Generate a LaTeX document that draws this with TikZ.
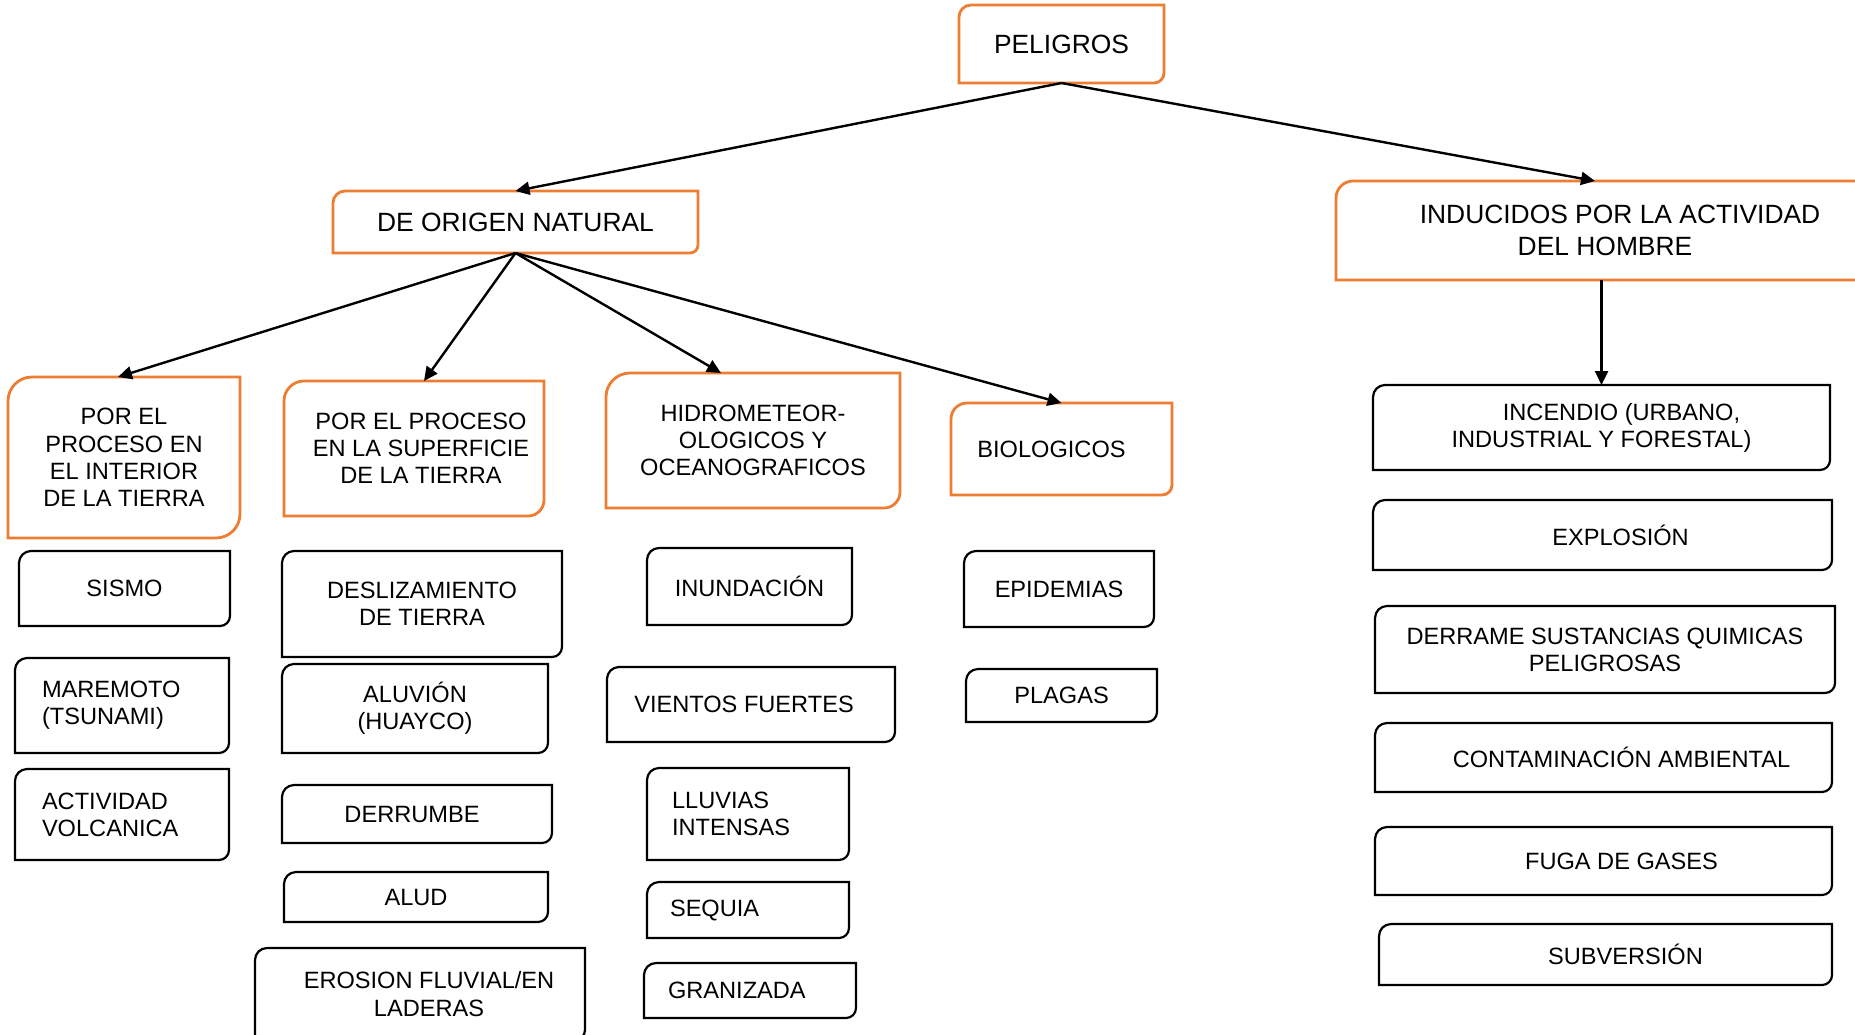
\documentclass[tikz,border=0pt]{standalone}
\usepackage{fontspec}
\setmainfont{Liberation Sans}
\usetikzlibrary{arrows.meta, positioning}
\definecolor{hazardorange}{RGB}{237,125,49}
\tikzset{
    hazard/.style={draw=none, align=center, inner sep=2pt, outer sep=0pt,
        font=\fontsize{11.8}{13.6}\selectfont},
    headfont/.style={font=\fontsize{13.2}{16}\selectfont},
    boxsize/.style 2 args={minimum width=#1*0.5pt, minimum height=#2*0.5pt},
    link/.style={line width=1.2pt, -{Triangle[length=7pt,width=6.5pt]}},
    orangeedge/.style={draw=hazardorange, line width=1.4pt},
    blackedge/.style={draw=black, line width=1.1pt}
}
% outline with rounded top left and bottom right corners
\newcommand{\tagoutline}[4]{%
    \draw[#4] (#1.south west) -- ([yshift=-#2]#1.north west)
        arc[start angle=180, end angle=90, radius=#2]
        -- (#1.north east) -- ([yshift=#3]#1.south east)
        arc[start angle=0, end angle=-90, radius=#3] -- cycle;%
}
\begin{document}
\begin{tikzpicture}[x=0.5pt, y=-0.5pt]
    \useasboundingbox (0,0) rectangle (1855,1034);
    % top levels
    \node[hazard, headfont, boxsize={205}{78}] (peligros) at (1061.5,44) {PELIGROS};
    \node[hazard, headfont, boxsize={365}{62}] (natural) at (515.5,222) {DE ORIGEN NATURAL};
    \node[hazard, headfont, boxsize={538}{99}] (inducidos) at (1605,230.5) {\hspace*{15pt}INDUCIDOS POR LA ACTIVIDAD\\DEL HOMBRE};
    \node[hazard, boxsize={232}{161}] (interior) at (124,457.5) {POR EL\\PROCESO EN\\EL INTERIOR\\DE LA TIERRA};
    \node[hazard, boxsize={260}{135}] (superficie) at (414,448.5) {\hspace*{7pt}POR EL PROCESO\\\hspace*{7pt}EN LA SUPERFICIE\\\hspace*{7pt}DE LA TIERRA};
    \node[hazard, boxsize={294}{135}] (hidro) at (753,440.5) {HIDROMETEOR-\\OLOGICOS Y\\OCEANOGRAFICOS};
    \node[hazard, boxsize={221}{92}] (bio) at (1061.5,449) {BIOLOGICOS\hspace*{10pt}};
    % interior
    \node[hazard, boxsize={211}{75}] (sismo) at (124.5,588.5) {SISMO};
    \node[hazard, boxsize={214}{95}, align=left, inner xsep=13.5pt, text width=80pt] (maremoto) at (122,705.5) {MAREMOTO\\(TSUNAMI)};
    \node[hazard, boxsize={214}{91}, align=left, inner xsep=13.5pt, text width=80pt] (volcanica) at (122,814.5) {ACTIVIDAD\\VOLCANICA};
    % superficie
    \node[hazard, boxsize={280}{106}] (deslizamiento) at (422,604) {DESLIZAMIENTO\\DE TIERRA};
    \node[hazard, boxsize={266}{89}] (aluvion) at (415,708.5) {ALUVIÓN\\(HUAYCO)};
    \node[hazard, boxsize={270}{58}] (derrumbe) at (417,814) {DERRUMBE\hspace*{5pt}};
    \node[hazard, boxsize={264}{50}] (alud) at (416,897) {ALUD};
    \node[hazard, boxsize={330}{92}] (erosion) at (420,994) {\hspace*{9pt}EROSION FLUVIAL/EN\\\hspace*{9pt}LADERAS};
    % hidrometeorologicos
    \node[hazard, boxsize={205}{77}] (inundacion) at (749.5,586.5) {INUNDACIÓN};
    \node[hazard, boxsize={288}{75}] (vientos) at (751,704.5) {VIENTOS FUERTES\hspace*{7pt}};
    \node[hazard, boxsize={202}{92}, align=left, inner xsep=12.5pt, text width=76pt] (lluvias) at (748,814) {LLUVIAS\\INTENSAS};
    \node[hazard, boxsize={202}{56}, align=left, inner xsep=11.5pt, text width=78pt] (sequia) at (748,910) {SEQUIA};
    \node[hazard, boxsize={212}{55}, align=left, inner xsep=12pt, text width=82pt] (granizada) at (750,990.5) {GRANIZADA};
    % biologicos
    \node[hazard, boxsize={190}{76}] (epidemias) at (1059,589) {EPIDEMIAS};
    \node[hazard, boxsize={191}{53}] (plagas) at (1061.5,695.5) {PLAGAS};
    % inducidos
    \node[hazard, boxsize={457}{85}] (incendio) at (1601.5,427.5) {\hspace*{20pt}INCENDIO (URBANO,\\INDUSTRIAL Y FORESTAL)};
    \node[hazard, boxsize={459}{70}] (explosion) at (1602.5,535) {\hspace*{18pt}EXPLOSIÓN};
    \node[hazard, boxsize={460}{87}] (derrame) at (1605,649.5) {DERRAME SUSTANCIAS QUIMICAS\\PELIGROSAS};
    \node[hazard, boxsize={457}{69}] (contaminacion) at (1603.5,757.5) {\hspace*{18pt}CONTAMINACIÓN AMBIENTAL};
    \node[hazard, boxsize={457}{68}] (fuga) at (1603.5,861) {\hspace*{18pt}FUGA DE GASES};
    \node[hazard, boxsize={453}{61}] (subversion) at (1605.5,954.5) {\hspace*{20pt}SUBVERSIÓN};
    % outlines
    \foreach \n/\a/\b in {peligros/6pt/5pt, natural/6pt/4pt, inducidos/8.5pt/6pt, interior/12pt/12pt,
        superficie/10pt/8pt, hidro/12pt/8pt, bio/8pt/5pt}
        {\tagoutline{\n}{\a}{\b}{orangeedge}}
    \foreach \n in {sismo, maremoto, volcanica, deslizamiento, aluvion, derrumbe, alud, erosion,
        inundacion, vientos, lluvias, sequia, granizada, epidemias, plagas,
        incendio, explosion, derrame, contaminacion, fuga, subversion}
        {\tagoutline{\n}{6pt}{5pt}{blackedge}}
    % arrows
    \draw[link] (peligros.south) -- (natural.north);
    \draw[link] (peligros.south) -- ([xshift=-5pt]inducidos.north);
    \draw[link] (natural.south) -- ([xshift=-3pt]interior.north);
    \draw[link] (natural.south) -- ([xshift=5pt]superficie.north);
    \draw[link] (natural.south) -- ([xshift=-16pt]hidro.north);
    \draw[link] (natural.south) -- (bio.north);
    \draw[link] (inducidos.south -| incendio.north) -- (incendio.north);
\end{tikzpicture}
\end{document}
